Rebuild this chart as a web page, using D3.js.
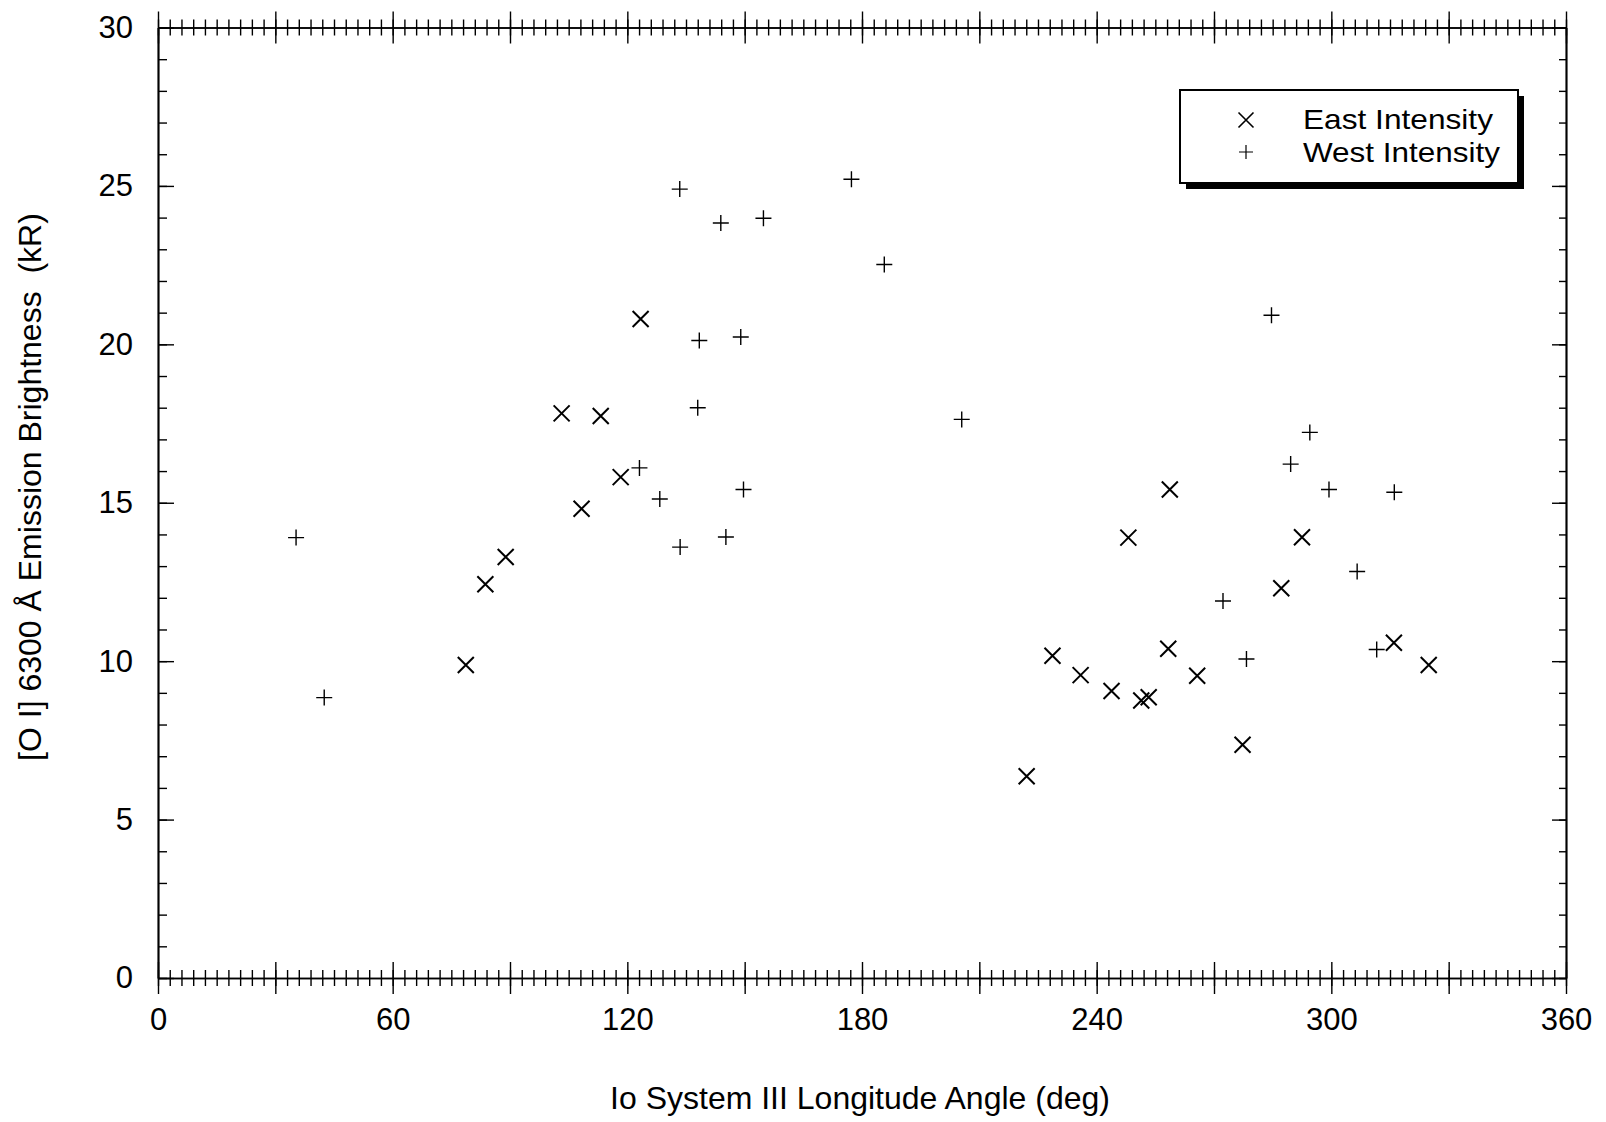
<!DOCTYPE html>
<html><head><meta charset="utf-8">
<script src="https://cdn.jsdelivr.net/npm/d3@7"></script>
<style>
body{margin:0;background:#fff}
svg{display:block}
text{font-family:"Liberation Sans",Arial,Helvetica,sans-serif;fill:#000}
</style>
</head><body>
<svg id="c" width="1606" height="1122"></svg>
<script>
// ---- data ----
const eastX = [78.7, 83.7, 88.9, 103.2, 108.3, 113.2, 118.3, 123.4, 222.1, 228.7, 235.9, 243.8, 248.1, 251.4, 253.3, 258.3, 258.7, 265.7, 277.3, 287.2, 292.5, 316.0, 324.9];
const eastY = [9.88, 12.43, 13.29, 17.82, 14.81, 17.74, 15.81, 20.80, 6.37, 10.17, 9.56, 9.06, 13.90, 8.76, 8.86, 10.39, 15.42, 9.54, 7.36, 12.30, 13.91, 10.58, 9.88];
const westX = [35.3, 42.5, 123.1, 128.3, 133.4, 133.5, 138.0, 138.4, 143.9, 145.2, 149.0, 149.7, 154.8, 177.3, 185.7, 205.5, 272.3, 278.3, 284.7, 289.6, 294.5, 299.4, 306.6, 311.6, 316.1];
const westY = [13.90, 8.85, 16.10, 15.12, 24.90, 13.60, 18.00, 20.12, 23.83, 13.92, 20.23, 15.42, 23.98, 25.21, 22.52, 17.63, 11.90, 10.07, 20.92, 16.22, 17.22, 15.42, 12.83, 10.37, 15.33];
const xTickLabels = [0, 60, 120, 180, 240, 300, 360];
const yTickLabels = [0, 5, 10, 15, 20, 25, 30];
const seriesNames = ["East Intensity", "West Intensity"];
const xTitle = "Io System III Longitude Angle (deg)";
const yTitle = "[O I] 6300 \u00C5 Emission Brightness\u00A0\u00A0(kR)";

// ---- layout ----
const svg = d3.select("#c");
const L = 158, R = 1566, T = 27.5, B = 978;
const x = d3.scaleLinear().domain([0, 360]).range([L, R]);
const y = d3.scaleLinear().domain([0, 30]).range([B, T]);
const xMinor = d3.range(0, 361, 3);
const xMajor = d3.range(0, 361, 30);
const yMinor = d3.range(0, 31, 1);

function style(g) {
  g.select(".domain").attr("stroke", "#000").attr("stroke-width", 1.7);
  g.selectAll(".tick line").attr("stroke", "#000").attr("stroke-width", 1.4);
}

// bottom axis: ticks cross the line
const gbMin = svg.append("g").attr("transform", `translate(0,${B})`)
  .call(d3.axisBottom(x).tickValues(xMinor).tickSize(8).tickSizeOuter(0).tickFormat(""));
gbMin.selectAll(".tick line").attr("y1", -8);
style(gbMin);
const gbMaj = svg.append("g").attr("transform", `translate(0,${B})`)
  .call(d3.axisBottom(x).tickValues(xMajor).tickSize(16).tickSizeOuter(0)
    .tickFormat(d => xTickLabels.includes(d) ? String(d) : ""));
gbMaj.selectAll(".tick line").attr("y1", -16);
gbMaj.selectAll(".tick text").attr("y", 41).attr("dy", "0.36em")
  .attr("font-size", 31).attr("font-family", null).attr("fill", "#000");
style(gbMaj);

// top axis
const gtMin = svg.append("g").attr("transform", `translate(0,${T})`)
  .call(d3.axisTop(x).tickValues(xMinor).tickSize(8).tickSizeOuter(0).tickFormat(""));
gtMin.selectAll(".tick line").attr("y1", 8);
style(gtMin);
const gtMaj = svg.append("g").attr("transform", `translate(0,${T})`)
  .call(d3.axisTop(x).tickValues(xMajor).tickSize(16).tickSizeOuter(0).tickFormat(""));
gtMaj.selectAll(".tick line").attr("y1", 16);
style(gtMaj);

// left axis: ticks inward
const glMin = svg.append("g").attr("transform", `translate(${L},0)`)
  .call(d3.axisLeft(y).tickValues(yMinor).tickSizeInner(-9).tickSizeOuter(0).tickFormat(""));
style(glMin);
const glMaj = svg.append("g").attr("transform", `translate(${L},0)`)
  .call(d3.axisLeft(y).tickValues(yTickLabels).tickSizeInner(-16).tickSizeOuter(0).tickPadding(25));
glMaj.selectAll(".tick text").attr("font-size", 31).attr("font-family", null).attr("fill", "#000");
style(glMaj);

// right axis: ticks inward
const grMin = svg.append("g").attr("transform", `translate(${R},0)`)
  .call(d3.axisRight(y).tickValues(yMinor).tickSizeInner(-7).tickSizeOuter(0).tickFormat(""));
style(grMin);
const grMaj = svg.append("g").attr("transform", `translate(${R},0)`)
  .call(d3.axisRight(y).tickValues(yTickLabels).tickSizeInner(-14).tickSizeOuter(0).tickFormat(""));
style(grMaj);

// ---- marks ----
const crossPath = "M-8,-8L8,8M-8,8L8,-8";
const plusPath = "M-8,0L8,0M0,-8L0,8";
svg.append("g").selectAll("path").data(d3.zip(eastX, eastY)).join("path")
  .attr("transform", d => `translate(${x(d[0])},${y(d[1])})`)
  .attr("d", crossPath).attr("fill", "none").attr("stroke", "#000").attr("stroke-width", 2);
svg.append("g").selectAll("path").data(d3.zip(westX, westY)).join("path")
  .attr("transform", d => `translate(${x(d[0])},${y(d[1])})`)
  .attr("d", plusPath).attr("fill", "none").attr("stroke", "#000").attr("stroke-width", 1.4);

// ---- titles ----
svg.append("text").attr("x", 860).attr("y", 1109).attr("text-anchor", "middle")
  .attr("font-size", 32).text(xTitle);
svg.append("text").attr("transform", "translate(41,487) rotate(-90)").attr("text-anchor", "middle")
  .attr("font-size", 32).text(yTitle);

// ---- legend ----
const lg = svg.append("g");
lg.append("rect").attr("x", 1186).attr("y", 96).attr("width", 338).attr("height", 93).attr("fill", "#000");
lg.append("rect").attr("x", 1180).attr("y", 90).attr("width", 338).attr("height", 93)
  .attr("fill", "#fff").attr("stroke", "#000").attr("stroke-width", 2);
lg.append("path").attr("transform", "translate(1246,120)").attr("d", "M-7.5,-7.5L7.5,7.5M-7.5,7.5L7.5,-7.5")
  .attr("fill", "none").attr("stroke", "#000").attr("stroke-width", 1.6);
lg.append("path").attr("transform", "translate(1246,152)").attr("d", "M-7,0L7,0M0,-7L0,7")
  .attr("fill", "none").attr("stroke", "#000").attr("stroke-width", 1.2);
lg.append("text").attr("x", 1303).attr("y", 128.5).attr("font-size", 28.5).attr("textLength", 190)
  .attr("lengthAdjust", "spacingAndGlyphs").text(seriesNames[0]);
lg.append("text").attr("x", 1303).attr("y", 161.5).attr("font-size", 28.5).attr("textLength", 197)
  .attr("lengthAdjust", "spacingAndGlyphs").text(seriesNames[1]);
</script>
</body></html>
